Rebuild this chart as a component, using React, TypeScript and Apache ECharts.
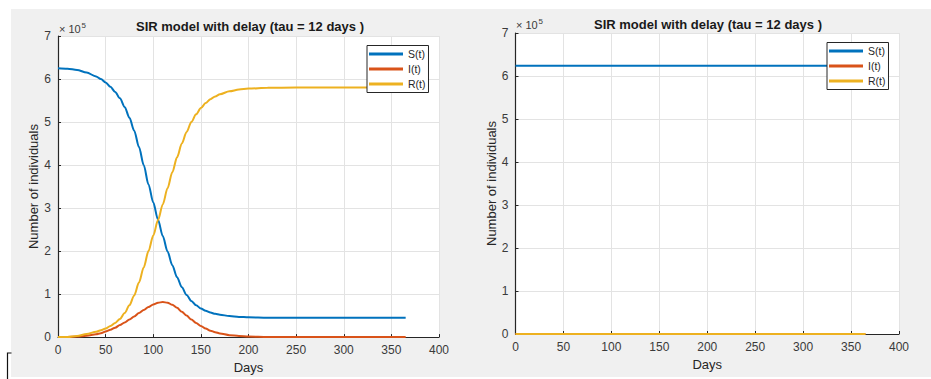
import React, { useEffect, useRef } from "react";
import * as echarts from "echarts";

// Simulation output, in units of 10^5 individuals.
// Left panel: epidemic with delay tau = 12 days.
const days = [
  0, 10, 20, 30, 40, 45, 50, 55, 60, 65, 70, 75, 80, 85, 90, 95, 100, 105, 110, 115, 120,
  125, 130, 135, 140, 145, 150, 155, 160, 165, 170, 180, 190, 200, 220, 250, 280, 310, 340, 365,
];
const susceptible = [
  6.25, 6.24, 6.21, 6.15, 6.06, 6.0, 5.92, 5.82, 5.7, 5.55, 5.35, 5.1, 4.8, 4.42, 4.0, 3.55, 3.13,
  2.73, 2.35, 1.99, 1.67, 1.39, 1.16, 0.98, 0.84, 0.74, 0.665, 0.61, 0.57, 0.54, 0.52, 0.49, 0.47,
  0.46, 0.45, 0.45, 0.45, 0.45, 0.45, 0.45,
];
const infected = [
  0.0, 0.005, 0.012, 0.03, 0.065, 0.09, 0.13, 0.17, 0.22, 0.28, 0.34, 0.41, 0.48, 0.56, 0.63, 0.7,
  0.76, 0.8, 0.815, 0.8, 0.75, 0.68, 0.59, 0.5, 0.41, 0.33, 0.26, 0.2, 0.15, 0.115, 0.085, 0.045,
  0.025, 0.013, 0.004, 0.001, 0.0, 0.0, 0.0, 0.0,
];
const recovered = [
  0.0, 0.005, 0.028, 0.07, 0.125, 0.16, 0.2, 0.26, 0.33, 0.42, 0.56, 0.74, 0.97, 1.27, 1.62, 2.0,
  2.36, 2.72, 3.085, 3.46, 3.83, 4.18, 4.5, 4.77, 5.0, 5.18, 5.325, 5.44, 5.53, 5.595, 5.645, 5.715,
  5.755, 5.777, 5.796, 5.8, 5.8, 5.8, 5.8, 5.8,
];

// Right panel: no outbreak, the population stays susceptible.
const flatDays = [0, 100, 200, 300, 365];
const flatSusceptible = [6.24, 6.24, 6.24, 6.24, 6.24];
const flatInfected = [0, 0, 0, 0, 0];
const flatRecovered = [0, 0, 0, 0, 0];

const seriesNames = ["S(t)", "I(t)", "R(t)"];
const seriesColors = ["#0072BD", "#D95319", "#EDB120"];
const xTicks = { min: 0, max: 400, interval: 50 };
const yTicks = { min: 0, max: 7, interval: 1 };
const titleText = "SIR model with delay (tau = 12 days )";

const FONT = "'Liberation Sans', Arial, Helvetica, sans-serif";
const INK = "#262626";
const LABEL = "#3a3a3a";
const GRID_LINE = "#e3e3e3";

const pairs = (xs: number[], ys: number[]) => xs.map((x, i) => [x, ys[i]]);

function xAxis(gridIndex: number) {
  return {
    type: "value",
    gridIndex,
    ...xTicks,
    name: "Days",
    nameLocation: "middle",
    nameGap: 22,
    nameTextStyle: { fontSize: 13, color: INK, fontFamily: FONT },
    axisLine: { show: true, onZero: false, lineStyle: { color: INK, width: 1.2 } },
    axisTick: { show: true, inside: true, length: 3, lineStyle: { color: INK } },
    axisLabel: { color: LABEL, fontSize: 12, margin: 7, fontFamily: FONT },
    splitLine: { show: true, lineStyle: { color: GRID_LINE, width: 1 } },
  };
}

function yAxis(gridIndex: number) {
  return {
    type: "value",
    gridIndex,
    ...yTicks,
    name: "Number of individuals",
    nameLocation: "middle",
    nameGap: 16,
    nameTextStyle: { fontSize: 13, color: INK, fontFamily: FONT },
    axisLine: { show: true, onZero: false, lineStyle: { color: INK, width: 1.2 } },
    axisTick: { show: true, inside: true, length: 3, lineStyle: { color: INK } },
    axisLabel: { color: LABEL, fontSize: 12, margin: 7, fontFamily: FONT },
    splitLine: { show: true, lineStyle: { color: GRID_LINE, width: 1 } },
  };
}

function lineSeries(idx: number, name: string, xs: number[], ys: number[]) {
  const color = seriesColors[seriesNames.indexOf(name)];
  return {
    type: "line",
    name,
    xAxisIndex: idx,
    yAxisIndex: idx,
    data: pairs(xs, ys),
    showSymbol: false,
    symbol: "none",
    smooth: 0.3,
    smoothMonotone: "x",
    color,
    lineStyle: { color, width: 2 },
  };
}

function legend(left: number, top: number) {
  return {
    orient: "vertical",
    left,
    top,
    data: seriesNames,
    icon: "rect",
    itemWidth: 34,
    itemHeight: 3,
    itemGap: 2,
    padding: [2, 3, 2, 2],
    backgroundColor: "#ffffff",
    borderColor: INK,
    borderWidth: 1,
    borderRadius: 0,
    textStyle: { fontSize: 10.5, color: INK, fontFamily: FONT, lineHeight: 13 },
  };
}

function exponent(x: number, y: number) {
  return [
    {
      type: "text",
      x,
      y,
      style: { text: "× 10", fontSize: 11, fill: LABEL, fontFamily: FONT, verticalAlign: "middle" },
    },
    {
      type: "text",
      x: x + 22.5,
      y: y - 4,
      style: { text: "5", fontSize: 8, fill: LABEL, fontFamily: FONT, verticalAlign: "middle" },
    },
  ];
}

function title(centerX: number, top: number) {
  return {
    text: titleText,
    left: centerX,
    top,
    textAlign: "center",
    padding: 0,
    textStyle: { fontSize: 13, fontWeight: "bold", color: "#1a1a1a", fontFamily: FONT },
  };
}

export default function App() {
  const ref = useRef<HTMLDivElement>(null);

  useEffect(() => {
    if (!ref.current) return;
    const chart = echarts.init(ref.current, undefined, { renderer: "svg" });
    chart.setOption({
      animation: false,
      backgroundColor: "#ffffff",
      textStyle: { fontFamily: FONT },
      title: [title(250, 20), title(708, 17.5)],
      legend: [legend(367, 45.5), legend(827, 42.5)],
      grid: [
        { left: 58, top: 36, width: 381, height: 301.5, show: true, backgroundColor: "#ffffff", borderWidth: 0 },
        { left: 515.5, top: 33, width: 383.5, height: 301, show: true, backgroundColor: "#ffffff", borderWidth: 0 },
      ],
      xAxis: [xAxis(0), xAxis(1)],
      yAxis: [yAxis(0), yAxis(1)],
      series: [
        lineSeries(0, "S(t)", days, susceptible),
        lineSeries(0, "I(t)", days, infected),
        lineSeries(0, "R(t)", days, recovered),
        lineSeries(1, "S(t)", flatDays, flatSusceptible),
        lineSeries(1, "I(t)", flatDays, flatInfected),
        lineSeries(1, "R(t)", flatDays, flatRecovered),
      ],
      graphic: [
        {
          type: "rect",
          z: -100,
          silent: true,
          shape: { x: 11, y: 9, width: 920, height: 368 },
          style: { fill: "#f0f0f0" },
        },
        {
          type: "polyline",
          silent: true,
          shape: { points: [[11.5, 353], [7.5, 353], [7.5, 379]] },
          style: { stroke: "#111111", lineWidth: 1.2, fill: "none" },
        },
        ...exponent(59, 29),
        ...exponent(516, 25),
      ],
    });
    return () => chart.dispose();
  }, []);

  return (
    <div
      ref={ref}
      style={{ position: "fixed", left: 0, top: 0, width: 931, height: 379, background: "#ffffff" }}
    />
  );
}
